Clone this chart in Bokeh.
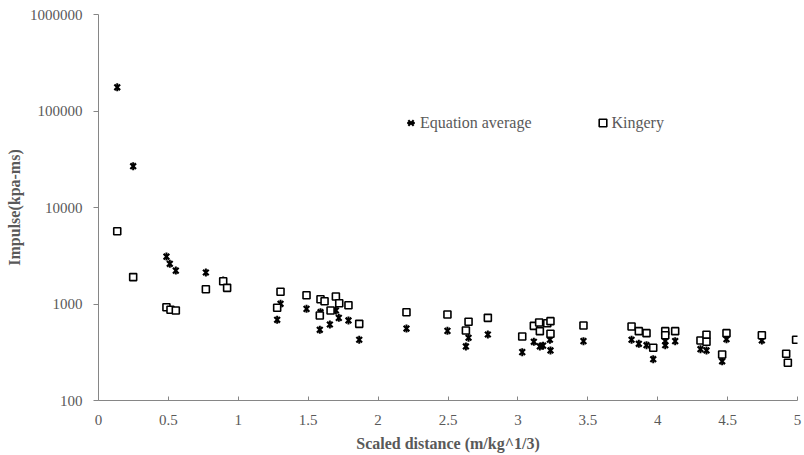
from bokeh.plotting import figure
from bokeh.models import Range1d, FixedTicker, CustomJSTickFormatter, Legend, LegendItem
from bokeh.embed import file_html
from bokeh.resources import INLINE

# ---- data ----
eq_x = [0.134, 0.248, 0.486, 0.51, 0.553, 0.768, 0.892, 1.278, 1.302, 1.488,
        1.583, 1.588, 1.655, 1.698, 1.719, 1.788, 1.865, 2.203, 2.496, 2.628,
        2.647, 2.785, 3.031, 3.114, 3.157, 3.18, 3.229, 3.233, 3.469, 3.813,
        3.865, 3.92, 3.968, 4.054, 4.054, 4.125, 4.306, 4.349, 4.461, 4.492,
        4.745]
eq_y = [176000, 26800, 3100, 2610, 2220, 2120, 1750, 686, 1005, 891,
        540, 822, 613, 857, 719, 675, 426, 557, 527, 363,
        447, 483, 317, 406, 363, 370, 426, 330, 412, 426,
        387, 374, 268, 412, 374, 412, 340, 330, 255, 432,
        419]

k_x = [0.134, 0.248, 0.486, 0.515, 0.553, 0.768, 0.892, 0.92, 1.278, 1.302,
       1.488, 1.583, 1.588, 1.617, 1.66, 1.698, 1.722, 1.788, 1.865, 2.203,
       2.496, 2.628, 2.647, 2.785, 3.031, 3.114, 3.152, 3.157, 3.21, 3.233,
       3.233, 3.469, 3.813, 3.865, 3.92, 3.968, 4.054, 4.054, 4.125, 4.306,
       4.349, 4.349, 4.461, 4.492, 4.745, 4.919, 4.931, 4.99]
k_y = [5680, 1900, 927, 871, 857, 1420, 1720, 1470, 914, 1340,
       1234, 760, 1122, 1069, 857, 1196, 1019, 972, 623, 822,
       778, 532, 654, 719, 461, 594, 643, 523, 632, 664,
       491, 598, 585, 523, 499, 352, 523, 475, 523, 419,
       480, 406, 300, 499, 475, 305, 246, 426]

x_ticks = [0, 0.5, 1, 1.5, 2, 2.5, 3, 3.5, 4, 4.5, 5]
y_ticks = [100, 1000, 10000, 100000, 1000000]
series_names = ["Equation average", "Kingery"]
x_title = "Scaled distance (m/kg^1/3)"
y_title = "Impulse(kpa-ms)"

FONT = "Liberation Serif"
AXIS_COLOR = "#868686"
TEXT_COLOR = "#595959"

p = figure(width=804, height=455, x_range=Range1d(0, 5), y_range=Range1d(100, 1e6),
           y_axis_type="log", output_backend="svg", toolbar_location=None,
           min_border_left=98, min_border_right=7, min_border_top=14, min_border_bottom=55)
p.outline_line_color = None
p.grid.visible = False
p.background_fill_color = "white"
p.border_fill_color = "white"

# axes
xa = p.xaxis[0]
xa.ticker = FixedTicker(ticks=x_ticks)
xa.formatter = CustomJSTickFormatter(code="return parseFloat(tick.toFixed(2)).toString();")
xa.minor_tick_line_color = None
xa.major_tick_in = 4
xa.major_tick_out = 0
xa.major_label_standoff = 14
xa.axis_label = x_title
xa.axis_label_standoff = 7

ya = p.yaxis[0]
ya.ticker = FixedTicker(ticks=y_ticks)
ya.formatter = CustomJSTickFormatter(code="return tick.toFixed(0);")
ya.minor_tick_line_color = None
ya.major_tick_in = 0
ya.major_tick_out = 5
ya.major_label_standoff = 11
ya.axis_label = y_title
ya.axis_label_standoff = 4

for ax in (xa, ya):
    ax.axis_line_color = AXIS_COLOR
    ax.major_tick_line_color = AXIS_COLOR
    ax.major_label_text_font = FONT
    ax.major_label_text_font_size = "15px"
    ax.major_label_text_color = TEXT_COLOR
    ax.axis_label_text_font = FONT
    ax.axis_label_text_font_size = "16px"
    ax.axis_label_text_font_style = "bold"
    ax.axis_label_text_color = TEXT_COLOR

# markers
rx = p.scatter(eq_x, eq_y, marker="x", size=8, line_color="black", line_width=2.2)
rd = p.scatter(eq_x, eq_y, marker="dash", angle=1.5708, size=8, line_color="black", line_width=2)
rs = p.scatter(k_x, k_y, marker="square", size=7, line_color="black", line_width=1.6,
               fill_color="white")

legend = Legend(items=[LegendItem(label=series_names[0], renderers=[rx, rd]),
                       LegendItem(label=series_names[1], renderers=[rs])],
                orientation="horizontal", location=(303, 268),
                glyph_width=19, glyph_height=19, label_standoff=0, spacing=61,
                padding=0, margin=0, border_line_color=None, background_fill_alpha=0,
                label_text_font=FONT, label_text_font_size="16px",
                label_text_color=TEXT_COLOR)
p.add_layout(legend)

open("out.html", "w").write(file_html(p, INLINE))
